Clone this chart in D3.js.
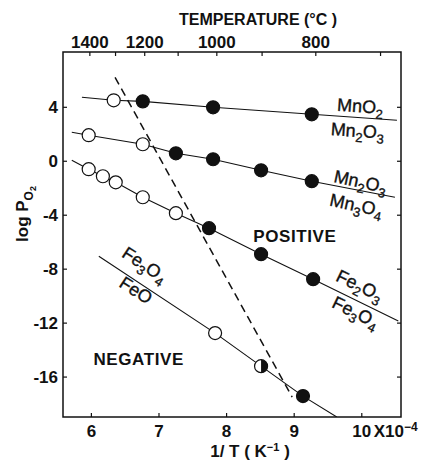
<!DOCTYPE html>
<html>
<head>
<meta charset="utf-8">
<script src="https://cdn.jsdelivr.net/npm/d3@7"></script>
<style>
  body { margin: 0; background: #fff; }
  text { font-family: "Liberation Sans", Arial, Helvetica, sans-serif; fill: #111; }
</style>
</head>
<body>
<svg id="chart"></svg>
<script>
// axis ticks
const xTicks = [6, 7, 8, 9, 10];
const yTicks = [4, 0, -4, -8, -12, -16];
const tempTicks = [1400, 1300, 1200, 1100, 1000, 900, 800, 700];
const tempLabels = [1400, 1200, 1000, 800];

// each series: [1/T (x1e-4), log PO2, state]  state: o = open, f = filled, h = half
const mnO2Series = [
  [5.86, 4.74, null],
  [6.33, 4.52, "o"],
  [6.76, 4.44, "f"],
  [7.80, 4.00, "f"],
  [9.26, 3.48, "f"],
  [10.52, 3.04, null]
];
const mn2O3Series = [
  [5.71, 2.15, null],
  [5.96, 1.93, "o"],
  [6.76, 1.26, "o"],
  [7.25, 0.59, "f"],
  [7.80, 0.15, "f"],
  [8.51, -0.67, "f"],
  [9.26, -1.48, "f"],
  [10.49, -2.67, null]
];
const fe2O3Series = [
  [5.71, 0.07, null],
  [5.96, -0.59, "o"],
  [6.17, -1.11, "o"],
  [6.36, -1.56, "o"],
  [6.76, -2.67, "o"],
  [7.25, -3.85, "o"],
  [7.74, -4.96, "f"],
  [8.51, -6.89, "f"],
  [9.28, -8.74, "f"],
  [10.54, -11.85, null]
];
const fe3O4Series = [
  [6.11, -7.04, null],
  [7.83, -12.74, "o"],
  [8.51, -15.19, "h"],
  [9.13, -17.41, "f"],
  [9.63, -18.96, null]
];
// boundary between positive and negative regions
const boundary = [[6.35, 6.22], [8.97, -17.48]];

const W = 430, H = 463;
const margin = {top: 52, right: 29, bottom: 46, left: 63};

const svg = d3.select("#chart").attr("width", W).attr("height", H);

const x = d3.scaleLinear().domain([5.58, 10.58]).range([margin.left, W - margin.right]);
const y = d3.scaleLinear().domain([8.1, -18.96]).range([margin.top, H - margin.bottom]);

const x0 = x.range()[0], x1 = x.range()[1], y0 = y.range()[0], y1 = y.range()[1];

// frame
svg.append("rect")
  .attr("x", x0).attr("y", y0)
  .attr("width", x1 - x0).attr("height", y1 - y0)
  .attr("fill", "none").attr("stroke", "#111").attr("stroke-width", 1.5);

const tickLen = 4;

// bottom axis
const bottom = svg.append("g").attr("transform", `translate(0,${y1})`);
bottom.selectAll("line").data(xTicks).join("line")
  .attr("x1", d => x(d)).attr("x2", d => x(d))
  .attr("y1", 0).attr("y2", -tickLen)
  .attr("stroke", "#111").attr("stroke-width", 1.2);
bottom.selectAll("text").data(xTicks).join("text")
  .attr("x", d => x(d)).attr("y", 20)
  .attr("text-anchor", "middle")
  .attr("font-size", 17).attr("font-weight", "bold")
  .text(d => d);

// the x10^-4 multiplier
const mult = bottom.append("text")
  .attr("x", x(10) + 12).attr("y", 20)
  .attr("font-size", 17).attr("font-weight", "bold");
mult.append("tspan").text("X10");
mult.append("tspan").attr("dy", -6).attr("font-size", 12).text("\u22124");

// x axis title
const xt = svg.append("text")
  .attr("x", 250).attr("y", 457)
  .attr("text-anchor", "middle")
  .attr("font-size", 17).attr("font-weight", "bold");
xt.append("tspan").text("1/ T ( K");
xt.append("tspan").attr("dy", -6).attr("font-size", 11).text("\u22121");
xt.append("tspan").attr("dy", 6).text(" )");

// left and right ticks
[x0, x1].forEach((xx, i) => {
  svg.append("g").selectAll("line").data(yTicks).join("line")
    .attr("x1", xx).attr("x2", i === 0 ? xx + tickLen : xx - tickLen)
    .attr("y1", d => y(d)).attr("y2", d => y(d))
    .attr("stroke", "#111").attr("stroke-width", 1.2);
});
svg.append("g").selectAll("text").data(yTicks).join("text")
  .attr("x", x0 - 5).attr("y", d => y(d) + 6)
  .attr("text-anchor", "end")
  .attr("font-size", 17).attr("font-weight", "bold")
  .text(d => d > 0 ? d : d === 0 ? "0" : "-" + Math.abs(d));

// y axis title
const yt = svg.append("text")
  .attr("transform", "translate(28,214) rotate(-90)")
  .attr("text-anchor", "middle")
  .attr("font-size", 17).attr("font-weight", "bold");
yt.append("tspan").text("log P");
yt.append("tspan").attr("dy", 5).attr("font-size", 12).text("O");
yt.append("tspan").attr("dy", 3).attr("font-size", 9).text("2");

// top temperature axis: 1/T in 1e-4 K^-1
const invT = t => 1e4 / (t + 273);
svg.append("g").selectAll("line").data(tempTicks).join("line")
  .attr("x1", d => x(invT(d))).attr("x2", d => x(invT(d)))
  .attr("y1", y0).attr("y2", y0 + tickLen)
  .attr("stroke", "#111").attr("stroke-width", 1.2);
svg.append("g").selectAll("text").data(tempLabels).join("text")
  .attr("x", d => x(invT(d))).attr("y", 48)
  .attr("text-anchor", "middle")
  .attr("font-size", 17).attr("font-weight", "bold")
  .text(d => d);
svg.append("text")
  .attr("x", 258).attr("y", 25)
  .attr("text-anchor", "middle")
  .attr("font-size", 16).attr("font-weight", "bold")
  .text("TEMPERATURE (\u00B0C )");

// plot area clip
svg.append("clipPath").attr("id", "clip")
  .append("rect").attr("x", x0).attr("y", y0).attr("width", x1 - x0).attr("height", y1 - y0);
const plot = svg.append("g").attr("clip-path", "url(#clip)");

const line = d3.line().x(d => x(d[0])).y(d => y(d[1]));

// boundary dashed line
plot.append("path")
  .attr("d", line(boundary))
  .attr("fill", "none").attr("stroke", "#111")
  .attr("stroke-width", 1.5).attr("stroke-dasharray", "8,5");

const allSeries = [mnO2Series, mn2O3Series, fe2O3Series, fe3O4Series];
const r = 6.5;

allSeries.forEach(s => {
  plot.append("path")
    .attr("d", line(s))
    .attr("fill", "none").attr("stroke", "#111").attr("stroke-width", 1.1);
});

allSeries.forEach(s => {
  const pts = s.filter(d => d[2]);
  const g = plot.append("g");
  g.selectAll("circle").data(pts).join("circle")
    .attr("cx", d => x(d[0])).attr("cy", d => y(d[1]))
    .attr("r", r)
    .attr("fill", d => d[2] === "f" ? "#111" : "#fff")
    .attr("stroke", "#111").attr("stroke-width", 1.2);
  // half filled: right half black
  g.selectAll("path.half").data(pts.filter(d => d[2] === "h")).join("path")
    .attr("class", "half")
    .attr("d", d => {
      const cx = x(d[0]), cy = y(d[1]);
      return `M${cx},${cy - r} A${r},${r} 0 0 1 ${cx},${cy + r} Z`;
    })
    .attr("fill", "#111");
});

// formula labels: [x, y, rotation, [text, subscript, text, subscript]]
const formulaLabels = [
  [9.97, 3.62, 4, ["Mn", "", "O", "2"]],
  [9.93, 1.8, 4, ["Mn", "2", "O", "3"]],
  [9.96, -1.95, 12, ["Mn", "2", "O", "3"]],
  [9.90, -3.7, 12, ["Mn", "3", "O", "4"]],
  [9.93, -9.62, 26, ["Fe", "2", "O", "3"]],
  [9.87, -11.6, 26, ["Fe", "3", "O", "4"]],
  [6.74, -8.05, 33, ["Fe", "3", "O", "4"]],
  [6.61, -9.95, 33, ["Fe", "", "O", ""]]
];

formulaLabels.forEach(([lx, ly, rot, parts]) => {
  const t = svg.append("text")
    .attr("transform", `translate(${x(lx)},${y(ly)}) rotate(${rot})`)
    .attr("text-anchor", "middle")
    .attr("font-size", 18)
    .attr("stroke", "#111").attr("stroke-width", 0.35);
  t.append("tspan").text(parts[0]);
  if (parts[1]) t.append("tspan").attr("dy", 5).attr("font-size", 13).text(parts[1]);
  t.append("tspan").attr("dy", parts[1] ? -5 : 0).text(parts[2]);
  if (parts[3]) t.append("tspan").attr("dy", 5).attr("font-size", 13).text(parts[3]);
});

// region labels
svg.append("text")
  .attr("x", x(9.01)).attr("y", y(-5.95))
  .attr("text-anchor", "middle")
  .attr("font-size", 17).attr("font-weight", "bold")
  .attr("letter-spacing", 0.6)
  .text("POSITIVE");
svg.append("text")
  .attr("x", x(6.7)).attr("y", y(-15.1))
  .attr("text-anchor", "middle")
  .attr("font-size", 17).attr("font-weight", "bold")
  .attr("letter-spacing", 0.6)
  .text("NEGATIVE");
</script>
</body>
</html>
